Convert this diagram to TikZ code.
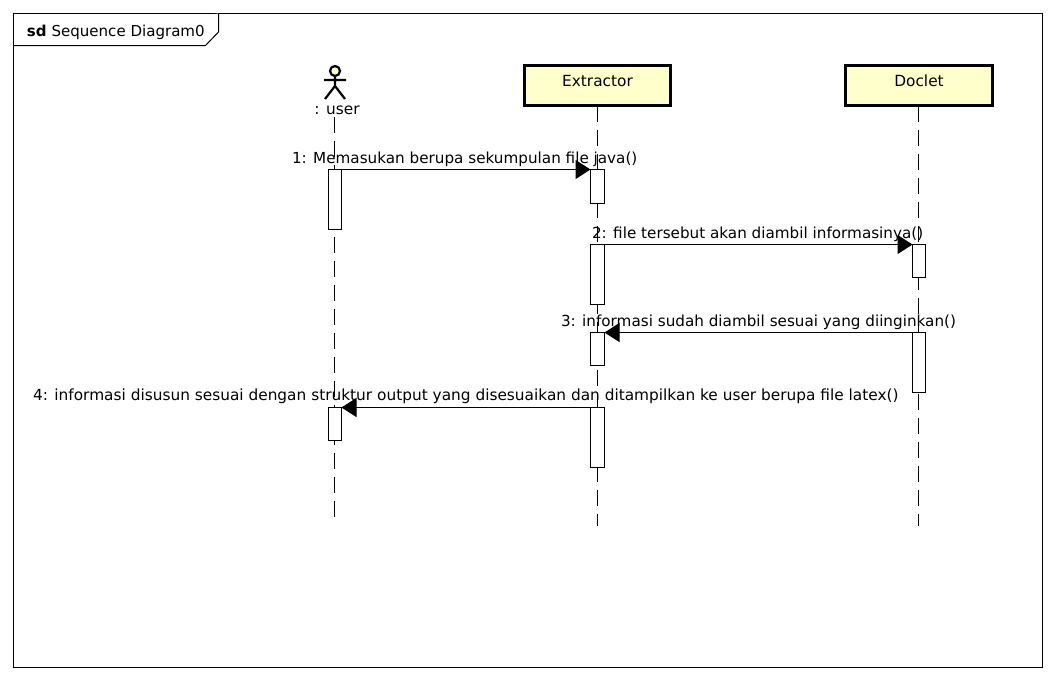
\documentclass[tikz,border=0pt]{standalone}
\usepackage{fontspec}
\setmainfont{DejaVu Sans}
\usetikzlibrary{arrows.meta}
\definecolor{umlfill}{HTML}{FFFFCC}
\tikzset{
  x=1pt,y=-1pt,
  every node/.style={font=\fontsize{15.35}{18}\selectfont,text=black,inner sep=0pt,outer sep=0pt},
  lifebox/.style={draw=black,line width=3pt,fill=umlfill,minimum width=146pt,minimum height=40pt,text depth=0pt},
  lifeline/.style={draw=black,line width=1pt,dash pattern=on 16pt off 8pt},
  activation/.style={draw=black,line width=1pt,fill=white,minimum width=14pt,anchor=north},
  msg/.style={draw=black,line width=1pt,-{Triangle[length=15pt,width=19pt]},shorten >=0pt},
  msglabel/.style={anchor=base west},
  msgtight/.style={msglabel,font=\fontsize{15.2}{18}\selectfont},
  stickman/.style={draw=black,line width=2.2pt}
}
\begin{document}
\begin{tikzpicture}
\useasboundingbox (0,0) rectangle (1056,680);
\fill[white] (0,0) rectangle (1056,680);
% frame
\coordinate (fTL) at (13.5,13.5);
\coordinate (fBR) at (1042.5,667.5);
\draw[black,line width=1pt] (fTL) rectangle (fBR);
\draw[black,line width=1pt,fill=white] (13.5,45.5) -- (205.5,45.5) -- (218.5,32) -- (218.5,13.5);
\node[anchor=base west,font=\fontsize{15.05}{18}\selectfont] (frameTitle) at (27,36) {\textbf{sd} Sequence Diagram0};
% lifeline heads
\node[lifebox] (extractor) at (597.5,85.5) {};
\node[lifebox,minimum width=147pt] (doclet) at (919,85.5) {};
\node[anchor=base] (extractorLabel) at (597.5,86) {Extractor};
\node[anchor=base] (docletLabel) at (919,86) {Doclet};
% actor
\draw[stickman,fill=umlfill] (335,71) circle (5);
\draw[stickman] (335,76) -- (335,86) (324,80) -- (346,80) (325,99) -- (335,86) -- (345,99);
\node[anchor=base] (userLabel) at (337,114.5) {: user};
\coordinate (userEnd) at (334.5,518);
\coordinate (userStart) at (334.5,117);
\coordinate (extractorEnd) at (597.5,526);
\coordinate (docletEnd) at (918.5,526);
\draw[lifeline] (userStart) -- (userEnd);
\draw[lifeline] (extractor.south) -- (extractorEnd);
\draw[lifeline] (918.5,105.5) -- (docletEnd);
% activations
\node[activation,minimum width=13pt,minimum height=60pt] (u1) at (335,169.5) {};
\node[activation,minimum width=13pt,minimum height=33pt] (u2) at (335,407.5) {};
\node[activation,minimum height=34pt] (e1) at (597.5,169.5) {};
\node[activation,minimum height=60pt] (e2) at (597.5,244.5) {};
\node[activation,minimum height=33pt] (e3) at (597.5,332.5) {};
\node[activation,minimum height=60pt] (e4) at (597.5,407.5) {};
\node[activation,minimum width=13pt,minimum height=33pt] (d1) at (919,244.5) {};
\node[activation,minimum width=13pt,minimum height=60pt] (d2) at (919,332.5) {};
% messages
\draw[msg] (u1.north east) -- (e1.north west);
\draw[msg] (e2.north east) -- (d1.north west);
\draw[msg] (d2.north west) -- (e3.north east);
\draw[msg] (e4.north west) -- (u2.north east);
% labels
\node[msgtight] (m1) at (292,163) {1: Memasukan berupa sekumpulan file java()};
\node[msgtight] (m2) at (592,238) {2: file tersebut akan diambil informasinya()};
\node[msgtight] (m3) at (561,326) {3: informasi sudah diambil sesuai yang diinginkan()};
\node[msglabel] (m4) at (33,400) {4: informasi disusun sesuai dengan struktur output yang disesuaikan dan ditampilkan ke user berupa file latex()};
\end{tikzpicture}
\end{document}
